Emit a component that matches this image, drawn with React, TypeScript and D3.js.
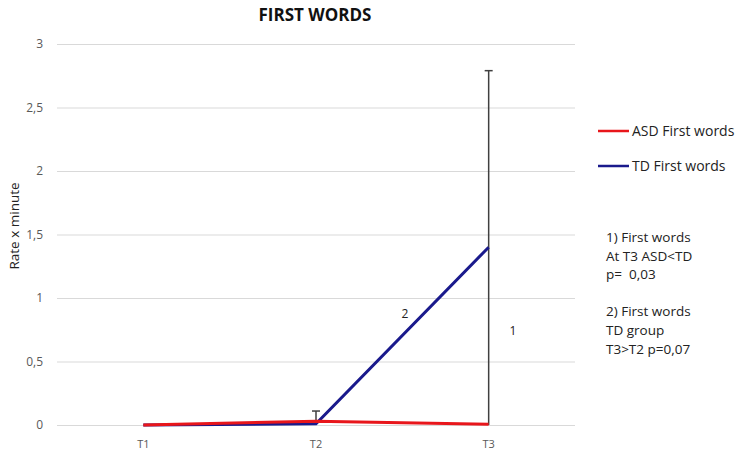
import React, { useRef, useEffect } from 'react';
import * as d3 from 'd3';

const categories = ['T1', 'T2', 'T3'];
const asdValues = [0, 0.03, 0.005];
const tdValues = [0, 0.01, 1.4];
// error bars: [category index, low, high]
const errorBars = [
  { cat: 1, low: 0.03, high: 0.11 },
  { cat: 2, low: 0, high: 2.79 },
];
const yTicks = [0, 0.5, 1, 1.5, 2, 2.5, 3];
const legendItems = [
  { label: 'ASD First words', color: '#e8161b' },
  { label: 'TD First words', color: '#1a1a8c' },
];
const noteLines = ['1) First words', 'At T3 ASD<TD', 'p=  0,03', '', '2) First words', 'TD group', 'T3>T2 p=0,07'];

const App = () => {
  const ref = useRef<SVGSVGElement>(null);

  useEffect(() => {
    const width = 738;
    const height = 459;
    const left = 57;
    const right = 575;
    const top = 44;
    const bottom = 425;
    const font = '"Open Sans", sans-serif';

    const svg = d3.select(ref.current);
    svg.selectAll('*').remove();
    svg.append('rect').attr('width', width).attr('height', height).attr('fill', '#fff');

    const x = d3.scaleBand().domain(categories).range([left, right]);
    const y = d3.scaleLinear().domain([0, 3]).range([bottom, top]);

    // grid + y ticks
    const yAxis = d3.axisLeft(y).tickValues(yTicks).tickSize(-(right - left))
      .tickFormat((d) => d3.format('~g')(d as number).replace('.', ','));
    svg.append('g')
      .attr('transform', `translate(${left},0)`)
      .call(yAxis)
      .call((g) => g.select('.domain').remove())
      .call((g) => g.selectAll('.tick line').attr('stroke', '#d9d9d9').attr('stroke-width', 1))
      .call((g) => g.selectAll('.tick text').attr('x', -14).attr('fill', '#595959')
        .attr('font-size', 12).attr('font-family', font));

    // x axis labels
    const xAxis = d3.axisBottom(x).tickSize(0);
    svg.append('g')
      .attr('transform', `translate(0,${bottom})`)
      .call(xAxis)
      .call((g) => g.select('.domain').remove())
      .call((g) => g.selectAll('.tick text').attr('y', 15).attr('fill', '#595959')
        .attr('font-size', 11).attr('font-family', font));

    const cx = (i: number) => (x(categories[i]) as number) + x.bandwidth() / 2;

    // error bars
    errorBars.forEach((e) => {
      const g = svg.append('g').attr('stroke', '#404040').attr('stroke-width', 1.5);
      g.append('line').attr('x1', cx(e.cat)).attr('x2', cx(e.cat)).attr('y1', y(e.low)).attr('y2', y(e.high));
      g.append('line').attr('x1', cx(e.cat) - 4).attr('x2', cx(e.cat) + 4).attr('y1', y(e.high)).attr('y2', y(e.high));
    });

    const line = d3.line<number>().x((_, i) => cx(i)).y((d) => y(d));
    svg.append('path').attr('d', line(tdValues)).attr('fill', 'none')
      .attr('stroke', legendItems[1].color).attr('stroke-width', 3);
    svg.append('path').attr('d', line(asdValues)).attr('fill', 'none')
      .attr('stroke', legendItems[0].color).attr('stroke-width', 3);

    // title
    svg.append('text').attr('x', 315).attr('y', 21).attr('text-anchor', 'middle')
      .attr('font-family', font).attr('font-weight', 'bold').attr('font-size', 17)
      .attr('fill', '#111').text('FIRST WORDS');

    // y label
    svg.append('text').attr('transform', `translate(19,226) rotate(-90)`)
      .attr('text-anchor', 'middle').attr('font-family', font).attr('font-size', 13.5)
      .attr('fill', '#222').text('Rate x minute');

    // legend
    legendItems.forEach((it, i) => {
      const ly = 131 + i * 35;
      svg.append('line').attr('x1', 598).attr('x2', 629).attr('y1', ly).attr('y2', ly)
        .attr('stroke', it.color).attr('stroke-width', 2.5);
      svg.append('text').attr('x', 632).attr('y', ly + 5).attr('font-family', font)
        .attr('font-size', 14).attr('fill', '#222').text(it.label);
    });

    // notes
    noteLines.forEach((t, i) => {
      if (!t) return;
      svg.append('text').attr('x', 606).attr('y', 242 + i * 18.6).attr('font-family', font)
        .attr('font-size', 13.5).attr('fill', '#222').style('white-space', 'pre').text(t);
    });

    // inline labels
    svg.append('text').attr('x', 405).attr('y', 318).attr('text-anchor', 'middle')
      .attr('font-family', font).attr('font-size', 12).attr('fill', '#222').text('2');
    svg.append('text').attr('x', 513).attr('y', 335).attr('text-anchor', 'middle')
      .attr('font-family', font).attr('font-size', 12).attr('fill', '#222').text('1');
  }, []);

  return (
    <svg ref={ref} width={738} height={459} style={{ position: 'absolute', left: 0, top: 0 }} />
  );
};

export default App;
